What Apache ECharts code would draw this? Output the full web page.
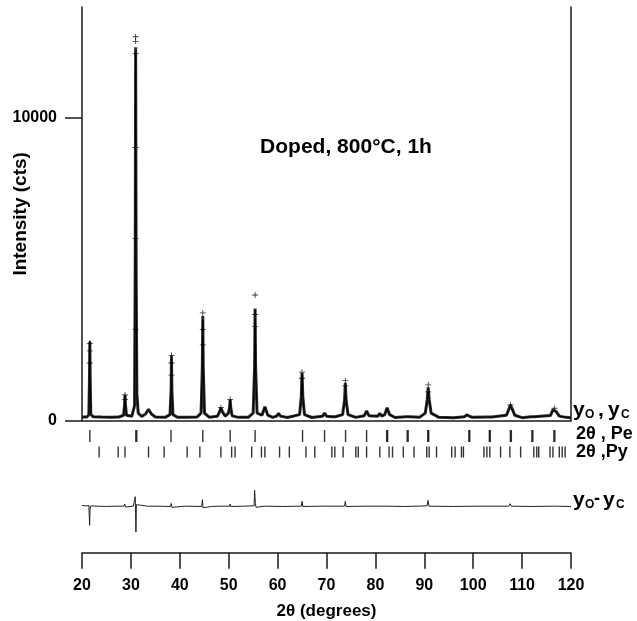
<!DOCTYPE html>
<html><head><meta charset="utf-8">
<script src="https://cdn.jsdelivr.net/npm/echarts@6/dist/echarts.min.js"></script>
<style>html,body{margin:0;padding:0;background:#fff}#c{width:637px;height:621px}</style>
</head><body><div id="c"></div>
<script>
const twoTheta = [20.0,21.0,21.4,21.52,21.6,21.68,21.8,22.3,24.0,26.0,27.5,28.5,28.7,28.8,28.9,29.1,30.2,30.75,30.88,30.97,31.07,31.22,31.5,32.2,33.0,33.6,34.2,35.0,37.0,38.0,38.22,38.3,38.38,38.6,39.5,41.5,43.5,44.35,44.6,44.7,44.8,45.05,46.0,47.7,48.15,48.4,48.7,49.3,49.95,50.2,50.3,50.4,50.7,52.0,54.0,55.0,55.3,55.4,55.5,55.8,56.8,57.4,58.0,59.0,59.8,60.2,60.6,62.0,64.5,64.85,65.0,65.15,65.5,67.0,69.2,69.6,70.0,71.2,71.5,71.8,73.3,73.7,73.85,74.0,74.4,76.0,77.7,78.2,78.7,80.5,80.9,81.3,81.9,82.4,82.9,84.0,86.2,86.6,87.0,89.0,90.2,90.6,90.8,91.0,91.4,93.0,96.0,98.2,98.7,99.2,99.8,103.0,103.4,103.8,106.8,107.3,107.6,108.0,108.5,110.0,111.8,112.1,112.5,115.8,116.3,116.6,117.0,117.6,119.0,120.0];
const yObs = [120,125,200,1300,2600,1300,200,130,120,115,120,180,500,850,500,180,150,500,5000,12300,5000,900,250,140,220,380,220,120,110,200,1000,2150,1000,200,115,110,120,250,1700,3450,1700,250,115,150,300,430,300,150,250,450,700,450,160,110,110,250,1800,3700,1800,250,180,460,180,110,150,240,150,105,200,800,1580,800,200,105,150,250,150,130,180,130,200,700,1250,700,200,110,160,320,160,150,240,150,200,430,200,105,130,170,130,110,250,700,1100,700,250,110,100,130,190,150,110,120,150,120,180,380,520,380,180,100,130,160,130,170,360,410,300,150,110,100];
const yCalc = [120,125,210,1350,2620,1350,210,130,120,115,120,170,480,820,480,170,150,520,5200,12120,5200,850,250,140,220,370,220,120,110,200,1000,2050,1000,200,115,110,120,250,1700,3350,1700,250,115,150,300,420,300,150,250,450,680,450,160,110,110,250,1700,3650,1700,250,180,450,180,110,150,240,150,105,200,800,1500,800,200,105,150,250,150,130,180,130,200,650,1120,650,200,110,160,310,160,150,240,150,200,420,200,105,130,170,130,110,250,650,950,650,250,110,100,130,190,150,110,120,150,120,180,360,480,360,180,100,130,160,130,170,340,390,280,150,110,100];
// observed points drawn as "+" near peak tops
const obsMarkTheta = [30.97,30.97,30.97,30.95,30.95,30.95,21.6,21.6,21.6,28.8,28.8,38.3,38.3,38.3,44.7,44.7,44.7,55.4,55.4,55.4,65.0,65.0,73.85,73.85,90.8,90.8,107.6,116.6,50.3,48.4];
const obsMarkI     = [12650,12500,12100,9000,6000,3000,2550,2300,1900,850,700,2150,1900,1500,3550,3000,2500,4140,3500,3100,1600,1400,1320,1150,1180,950,520,410,700,430];
// ---- difference curve yo - yc ----
const diffTheta = [20.0,20.8,21.4,21.5,21.56,21.65,21.75,23.0,25.0,27.0,28.6,28.75,28.9,29.0,30.5,30.8,30.88,30.96,31.03,31.12,31.3,33.4,33.6,33.8,35.5,38.1,38.25,38.4,38.5,41.0,44.5,44.62,44.75,44.85,46.5,48.3,48.4,48.5,50.2,50.3,50.4,53.0,55.2,55.3,55.45,55.6,55.7,57.3,57.4,57.5,61.0,64.85,65.0,65.15,69.0,73.7,73.85,74.0,78.1,78.2,78.3,82.3,82.4,82.5,86.0,90.55,90.75,90.95,96.0,101.0,107.3,107.55,107.8,112.0,116.3,116.55,116.8,120.0];
const yDiff = [30,20,30,60,-620,-100,20,10,0,10,10,80,-20,10,10,60,320,-200,-840,60,0,10,40,0,10,0,100,-30,0,10,0,220,-40,10,0,10,40,10,10,80,0,10,20,530,100,-30,10,10,50,10,0,10,170,0,10,10,170,0,10,40,10,10,50,10,0,20,200,10,0,10,10,90,10,0,10,60,10,0];
// ---- reflection positions ----
const pePositions = [21.6,31.0,31.2,38.2,44.7,50.3,55.4,65.1,69.6,73.9,78.2,82.3,82.5,86.5,86.7,90.7,90.9,99.1,99.3,103.3,103.5,107.6,107.8,112.0,112.2,116.5,116.7];
const pyPositions = [23.5,27.4,28.8,33.6,36.8,41.5,44.1,48.4,50.6,51.3,54.7,56.7,57.4,60.4,62.4,65.8,67.6,71.1,71.7,73.4,76.0,76.5,78.2,80.9,82.8,83.5,85.7,87.9,90.5,91.0,92.5,95.6,96.3,97.6,98.0,102.2,102.8,103.4,105.6,107.5,109.7,112.4,113.0,113.4,115.7,116.3,117.6,118.2,118.8];
// ---- axis ticks ----
const xTickMin = 20, xTickMax = 120, xTickStep = 10;
const yTickValues = [0, 10000];

const FONT = '"Liberation Sans", Arial, sans-serif';
const INK = '#1a1a1a';
const chart = echarts.init(document.getElementById('c'), null, {renderer: 'canvas'});
const zip = (a, b) => a.map((v, i) => [v, b[i]]);
const hidden = {show: false};
const L = 82, W = 489;
const plusPath = 'path://M0,4.3H10V5.7H0ZM4.3,0H5.7V10H4.3Z';

chart.setOption({
  animation: false,
  backgroundColor: '#fff',
  textStyle: {fontFamily: FONT},
  grid: [
    {left: L, top: 7, width: W, height: 413.7},
    {left: L, top: 117.3, width: W, height: 303.4},
    {left: L, top: 428, width: W, height: 32},
    {left: L, top: 476, width: W, height: 64},
    {left: L, top: 540, width: W, height: 12.7}
  ],
  xAxis: [
    {gridIndex: 0, type: 'value', min: xTickMin, max: xTickMax, position: 'top',
     axisLine: {show: true, lineStyle: {color: INK, width: 1.5}}, axisTick: hidden, axisLabel: hidden, splitLine: hidden},
    {gridIndex: 1, type: 'value', min: xTickMin, max: xTickMax, show: false},
    {gridIndex: 2, type: 'value', min: xTickMin, max: xTickMax, show: false},
    {gridIndex: 3, type: 'value', min: xTickMin, max: xTickMax, show: false},
    {gridIndex: 4, type: 'value', min: xTickMin, max: xTickMax, interval: xTickStep, position: 'bottom',
     axisLine: {show: true, lineStyle: {color: INK, width: 1.5}},
     axisTick: {show: true, inside: false, length: 16, lineStyle: {color: INK, width: 1.5}},
     axisLabel: {show: true, margin: 25, fontSize: 16, fontWeight: 'bold', color: '#000', fontFamily: FONT},
     splitLine: hidden,
     name: '2θ (degrees)', nameLocation: 'middle', nameGap: 50,
     nameTextStyle: {fontSize: 17, fontWeight: 'bold', color: '#000', fontFamily: FONT}}
  ],
  yAxis: [
    {gridIndex: 0, type: 'value', min: 0, max: 13630, position: 'left',
     axisLine: {show: true, lineStyle: {color: INK, width: 1.5}}, axisTick: hidden, axisLabel: hidden, splitLine: hidden,
     name: 'Intensity (cts)', nameLocation: 'middle', nameGap: 52, nameRotate: 90,
     nameTextStyle: {fontSize: 19, fontWeight: 'bold', color: '#000', fontFamily: FONT}},
    {gridIndex: 0, type: 'value', min: 0, max: 13630, position: 'right',
     axisLine: {show: true, lineStyle: {color: INK, width: 1.5}}, axisTick: hidden, axisLabel: hidden, splitLine: hidden},
    {gridIndex: 1, type: 'value', min: yTickValues[0], max: yTickValues[1], interval: yTickValues[1] - yTickValues[0],
     axisLine: hidden,
     axisTick: {show: true, inside: false, length: 17, lineStyle: {color: INK, width: 1.5}},
     axisLabel: {show: true, margin: 25, fontSize: 16, fontWeight: 'bold', color: '#000', fontFamily: FONT,
                 formatter: v => String(v)},
     splitLine: hidden},
    {gridIndex: 2, type: 'value', min: 0, max: 2, show: false},
    {gridIndex: 3, type: 'value', min: -1100, max: 1000, show: false},
    {gridIndex: 4, type: 'value', min: 0, max: 1, show: false}
  ],
  series: [
    {type: 'line', name: 'yo', xAxisIndex: 0, yAxisIndex: 0, data: zip(twoTheta, yObs),
     showSymbol: false, lineStyle: {color: '#2a2a2a', width: 3}, z: 2},
    {type: 'line', name: 'yc', xAxisIndex: 0, yAxisIndex: 0, data: zip(twoTheta, yCalc),
     showSymbol: false, lineStyle: {color: '#000', width: 1}, z: 3},
    {type: 'scatter', name: 'yo points', xAxisIndex: 0, yAxisIndex: 0, data: zip(obsMarkTheta, obsMarkI),
     symbol: plusPath, symbolSize: 6, itemStyle: {color: '#000'}, z: 4},
    {type: 'scatter', name: 'Pe', xAxisIndex: 2, yAxisIndex: 3, data: pePositions.map(p => [p, 1.5]),
     symbol: 'rect', symbolSize: [1.4, 12], itemStyle: {color: '#000'}},
    {type: 'scatter', name: 'Py', xAxisIndex: 2, yAxisIndex: 3, data: pyPositions.map(p => [p, 0.5]),
     symbol: 'rect', symbolSize: [1.4, 11], itemStyle: {color: '#000'}},
    {type: 'line', name: 'diff', xAxisIndex: 3, yAxisIndex: 4, data: zip(diffTheta, yDiff),
     showSymbol: false, lineStyle: {color: '#222', width: 1}}
  ],
  graphic: [
    {type: 'text', x: 346, y: 147, style: {text: 'Doped, 800°C, 1h', font: 'bold 21px ' + FONT, fill: '#000', textAlign: 'center', textVerticalAlign: 'middle'}},
    // yo , yc
    {type: 'text', x: 573, y: 410, style: {text: 'y', font: 'bold 21px ' + FONT, fill: '#000', textAlign: 'left', textVerticalAlign: 'middle'}},
    {type: 'text', x: 585, y: 415, style: {text: 'O', font: 'bold 12px ' + FONT, fill: '#000', textAlign: 'left', textVerticalAlign: 'middle'}},
    {type: 'text', x: 598, y: 410, style: {text: ',', font: 'bold 21px ' + FONT, fill: '#000', textAlign: 'left', textVerticalAlign: 'middle'}},
    {type: 'text', x: 608, y: 410, style: {text: 'y', font: 'bold 21px ' + FONT, fill: '#000', textAlign: 'left', textVerticalAlign: 'middle'}},
    {type: 'text', x: 621, y: 415, style: {text: 'C', font: 'bold 12px ' + FONT, fill: '#000', textAlign: 'left', textVerticalAlign: 'middle'}},
    // 2θ , Pe / 2θ ,Py
    {type: 'text', x: 576, y: 434, style: {text: '2θ , Pe', font: 'bold 18px ' + FONT, fill: '#000', textAlign: 'left', textVerticalAlign: 'middle'}},
    {type: 'text', x: 576, y: 452, style: {text: '2θ ,Py', font: 'bold 18px ' + FONT, fill: '#000', textAlign: 'left', textVerticalAlign: 'middle'}},
    // yo- yc
    {type: 'text', x: 573, y: 500, style: {text: 'y', font: 'bold 21px ' + FONT, fill: '#000', textAlign: 'left', textVerticalAlign: 'middle'}},
    {type: 'text', x: 585, y: 505, style: {text: 'O', font: 'bold 12px ' + FONT, fill: '#000', textAlign: 'left', textVerticalAlign: 'middle'}},
    {type: 'text', x: 594, y: 499, style: {text: '-', font: 'bold 18px ' + FONT, fill: '#000', textAlign: 'left', textVerticalAlign: 'middle'}},
    {type: 'text', x: 603, y: 500, style: {text: 'y', font: 'bold 21px ' + FONT, fill: '#000', textAlign: 'left', textVerticalAlign: 'middle'}},
    {type: 'text', x: 616, y: 505, style: {text: 'C', font: 'bold 12px ' + FONT, fill: '#000', textAlign: 'left', textVerticalAlign: 'middle'}}
  ]
});
</script>
</body></html>
